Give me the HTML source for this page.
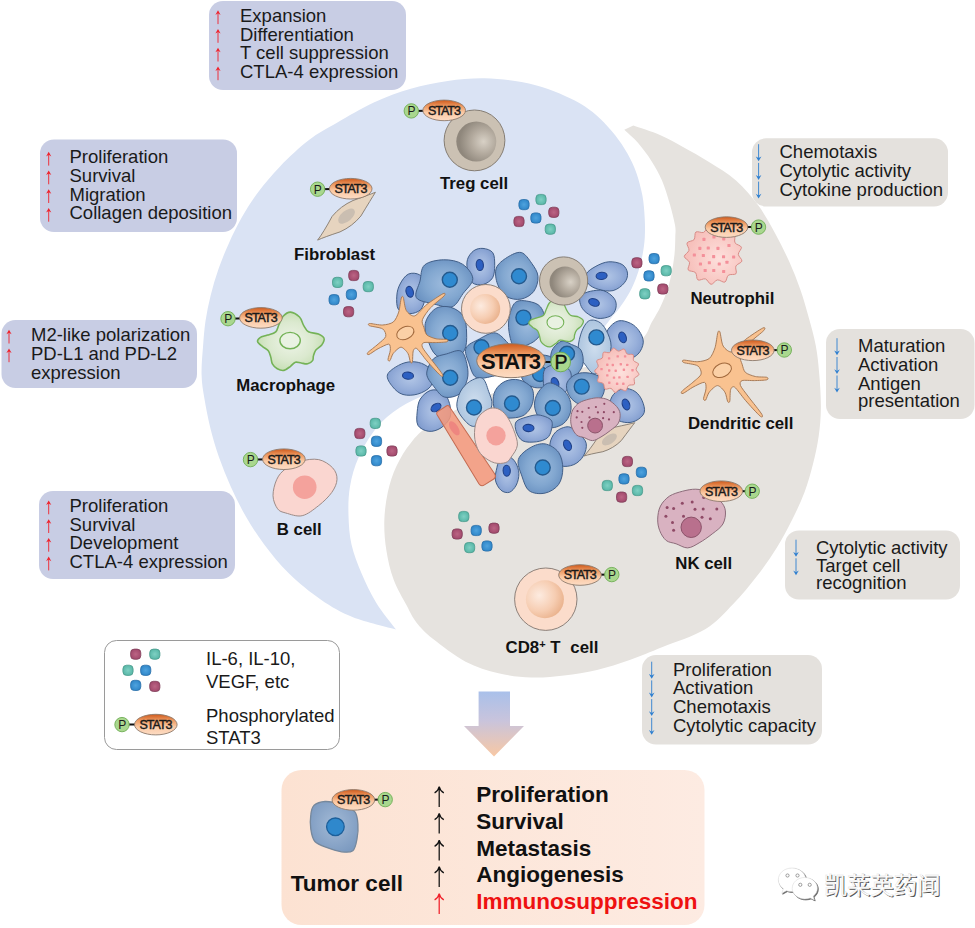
<!DOCTYPE html>
<html><head><meta charset="utf-8"><title>STAT3 in tumor microenvironment</title>
<style>
html,body{margin:0;padding:0;background:#fff;}
body{width:975px;height:928px;overflow:hidden;}
svg{display:block;font-family:"Liberation Sans",sans-serif;}
.t{font-size:18.5px;fill:#1a1a1a;}
.lb{font-size:16.8px;font-weight:bold;fill:#111;}
.st{font-size:12.5px;fill:#1a1a1a;letter-spacing:-1px;}
.bb{font-size:22.5px;font-weight:bold;fill:#111;}
</style></head><body>
<svg width="975" height="928" viewBox="0 0 975 928">
<defs>
<linearGradient id="gS" x1="0" y1="0" x2="0" y2="1"><stop offset="0" stop-color="#cf5a1c"/><stop offset="0.3" stop-color="#ee9a62"/><stop offset="0.6" stop-color="#fac9a4"/><stop offset="1" stop-color="#fddcc4"/></linearGradient>
<radialGradient id="gTreg" cx="0.68" cy="0.5" r="0.6"><stop offset="0" stop-color="#d8d1c6"/><stop offset="0.5" stop-color="#b4ab9f"/><stop offset="1" stop-color="#8f877c"/></radialGradient>
<radialGradient id="gCD8" cx="0.35" cy="0.4" r="0.7"><stop offset="0" stop-color="#fdebe0"/><stop offset="0.6" stop-color="#f6cdb2"/><stop offset="1" stop-color="#e9b08a"/></radialGradient>
<radialGradient id="gMac" cx="0.5" cy="0.5" r="0.55"><stop offset="0" stop-color="#eef4e8"/><stop offset="0.6" stop-color="#dbe9cf"/><stop offset="1" stop-color="#c3ddb0"/></radialGradient>
<radialGradient id="gNeu" cx="0.6" cy="0.55" r="0.6"><stop offset="0" stop-color="#fde0dc"/><stop offset="1" stop-color="#f6bdb8"/></radialGradient>
<linearGradient id="gArrow" x1="0" y1="0" x2="0" y2="1"><stop offset="0" stop-color="#a9c0ea"/><stop offset="0.45" stop-color="#c9c4dc"/><stop offset="1" stop-color="#f8c8a4"/></linearGradient>
<linearGradient id="gBox" x1="0" y1="0" x2="1" y2="0"><stop offset="0" stop-color="#fce2d2"/><stop offset="1" stop-color="#fdebe2"/></linearGradient>
<radialGradient id="gT1" cx="0.5" cy="0.5" r="0.6"><stop offset="0" stop-color="#9dbbdd"/><stop offset="0.55" stop-color="#82a7d0"/><stop offset="1" stop-color="#658dbe"/></radialGradient>
<radialGradient id="gT2" cx="0.5" cy="0.5" r="0.6"><stop offset="0" stop-color="#b2c6e6"/><stop offset="0.55" stop-color="#97afda"/><stop offset="1" stop-color="#7c98cc"/></radialGradient>
<radialGradient id="gT3" cx="0.5" cy="0.5" r="0.6"><stop offset="0" stop-color="#cfdeee"/><stop offset="1" stop-color="#a6c0dc"/></radialGradient>
<radialGradient id="gDm" cx="0.5" cy="0.5" r="0.6"><stop offset="0" stop-color="#bb6584"/><stop offset="1" stop-color="#9e4468"/></radialGradient>
<radialGradient id="gDt" cx="0.5" cy="0.5" r="0.6"><stop offset="0" stop-color="#7fd0c3"/><stop offset="1" stop-color="#52b3a3"/></radialGradient>
<radialGradient id="gDb" cx="0.5" cy="0.5" r="0.6"><stop offset="0" stop-color="#4fa3de"/><stop offset="1" stop-color="#2a82c6"/></radialGradient>
</defs>
<path d="M396.0,629.5 C392.7,625.0 381.9,612.0 376.2,602.7 C370.5,593.4 365.7,583.3 361.6,573.6 C357.5,563.9 353.7,554.2 351.5,544.5 C349.3,534.8 348.8,525.2 348.5,515.5 C348.2,505.8 348.3,496.1 350.0,486.4 C351.7,476.7 354.3,467.0 358.7,457.3 C363.1,447.6 369.4,436.4 376.2,428.2 C383.0,419.9 390.5,413.6 399.5,407.8 C408.5,402.0 416.6,398.3 430.0,393.3 C443.4,388.3 461.7,383.6 480.0,378.0 C498.3,372.4 521.7,366.3 540.0,360.0 C558.3,353.7 577.9,347.2 590.0,340.0 C602.1,332.8 607.1,322.5 612.4,316.6 C617.7,310.7 618.7,309.1 621.9,304.5 C625.1,299.9 628.7,294.5 631.4,289.0 C634.1,283.5 636.4,277.4 638.3,271.7 C640.2,265.9 641.5,260.2 642.6,254.5 C643.7,248.8 644.4,243.3 644.8,237.2 C645.1,231.1 645.1,224.9 644.7,218.0 C644.3,211.1 643.8,203.1 642.4,195.6 C641.0,188.1 638.9,180.1 636.4,173.0 C633.9,165.9 630.8,159.6 627.3,153.3 C623.8,147.0 619.7,141.0 615.2,135.2 C610.7,129.4 605.2,123.5 600.2,118.7 C595.2,113.9 590.0,110.0 585.0,106.6 C580.0,103.2 576.2,101.2 570.0,98.3 C563.8,95.4 556.1,91.7 548.0,89.0 C539.9,86.3 532.1,83.8 521.5,82.0 C510.9,80.2 496.9,78.5 484.6,78.3 C472.3,78.1 460.0,79.2 447.7,81.0 C435.4,82.8 423.1,85.2 410.8,88.8 C398.5,92.4 386.1,96.8 373.8,102.5 C361.5,108.2 347.8,116.5 337.0,122.8 C326.2,129.1 318.4,132.8 309.0,140.0 C299.6,147.2 288.9,157.3 280.5,165.9 C272.1,174.5 265.0,183.1 258.5,191.7 C252.0,200.3 246.6,209.0 241.7,217.6 C236.8,226.2 232.7,234.8 228.8,243.4 C224.9,252.0 221.4,260.7 218.4,269.3 C215.4,277.9 212.8,286.6 210.7,295.2 C208.5,303.8 206.8,312.4 205.5,321.0 C204.2,329.6 203.7,337.9 203.0,346.9 C202.3,355.9 201.3,366.3 201.6,375.0 C201.8,383.7 203.0,390.1 204.5,399.0 C206.0,407.9 208.0,418.5 210.4,428.2 C212.8,437.9 215.6,447.6 219.0,457.3 C222.4,467.0 226.3,476.7 230.7,486.4 C235.1,496.1 239.7,505.8 245.3,515.5 C250.9,525.2 256.9,534.8 264.2,544.5 C271.5,554.2 279.5,564.4 289.0,573.6 C298.5,582.8 310.3,592.5 321.0,599.8 C331.7,607.1 340.5,612.3 353.0,617.3 C365.5,622.2 388.8,627.5 396.0,629.5Z" fill="#dae3f4"/>
<path d="M633.3,125.6 C637.8,127.2 652.2,131.6 660.5,135.2 C668.8,138.8 674.9,142.5 683.0,147.0 C691.1,151.5 700.2,156.4 709.0,162.0 C717.8,167.6 727.8,173.1 736.0,180.4 C744.2,187.7 751.9,196.7 758.4,205.6 C764.9,214.5 770.1,224.3 775.2,233.6 C780.3,242.9 785.0,252.3 789.2,261.6 C793.4,271.0 797.1,280.4 800.4,289.7 C803.7,299.0 806.2,308.4 808.8,317.7 C811.4,327.0 814.1,336.4 815.8,345.7 C817.5,355.0 818.4,363.3 819.2,373.7 C820.1,384.1 821.0,397.6 820.9,408.0 C820.8,418.4 820.0,426.7 818.7,436.0 C817.4,445.3 815.4,454.7 813.0,464.0 C810.6,473.3 808.1,482.7 804.6,492.0 C801.1,501.3 796.7,510.7 792.0,520.0 C787.3,529.3 782.4,538.7 776.6,548.0 C770.8,557.3 764.2,566.7 757.0,576.0 C749.8,585.3 741.8,595.1 733.2,604.0 C724.6,612.9 717.0,622.1 705.2,629.3 C693.4,636.5 675.2,641.9 662.6,647.0 C650.0,652.1 640.6,656.2 629.7,660.0 C618.8,663.8 608.0,667.4 597.0,670.0 C586.0,672.6 575.0,674.2 564.0,675.5 C553.0,676.8 542.2,677.9 531.3,677.5 C520.4,677.1 509.4,675.8 498.5,673.2 C487.6,670.6 476.6,667.4 465.6,661.7 C454.7,656.0 441.0,645.3 432.8,638.8 C424.6,632.2 420.8,627.9 416.4,622.4 C412.0,616.9 410.5,612.8 406.7,605.6 C402.9,598.5 397.0,588.7 393.6,579.5 C390.2,570.3 387.9,560.1 386.4,550.4 C384.8,540.7 384.1,531.0 384.3,521.3 C384.5,511.6 385.8,501.4 387.8,492.2 C389.8,483.0 392.6,474.2 396.5,466.0 C400.4,457.8 405.4,449.5 411.0,442.7 C416.6,435.9 418.5,432.8 430.0,425.3 C441.5,417.9 461.7,405.6 480.0,398.0 C498.3,390.4 520.0,386.0 540.0,380.0 C560.0,374.0 583.3,368.6 600.0,362.0 C616.7,355.4 631.3,347.4 640.0,340.7 C648.7,334.0 648.5,327.4 652.0,321.7 C655.5,315.9 658.1,311.6 660.7,306.2 C663.3,300.8 665.7,294.8 667.6,289.0 C669.5,283.2 670.8,277.4 671.9,271.7 C673.0,265.9 673.9,260.2 674.5,254.5 C675.1,248.8 675.2,242.1 675.3,237.2 C675.4,232.3 676.0,230.7 675.0,225.0 C674.0,219.3 671.7,210.4 669.5,203.0 C667.3,195.6 665.0,187.5 662.0,180.5 C659.0,173.5 655.4,167.2 651.4,160.9 C647.4,154.6 642.4,148.0 637.9,142.8 C633.4,137.6 626.6,132.0 624.3,129.8Z" fill="#e6e3df"/>
<rect x="209.0" y="1.0" width="197.0" height="89.0" rx="14" fill="#c8cde4"/>
<text class="t" x="240.0" y="21.8">Expansion</text>
<path d="M218.0,24.1 V12.3" fill="none" stroke="#f0202a" stroke-width="0.9"/><path d="M218.0,10.3 L215.4,14.9 L218.0,13.3 L220.6,14.9Z" fill="#f0202a"/>
<text class="t" x="240.0" y="40.5">Differentiation</text>
<path d="M218.0,42.8 V31.0" fill="none" stroke="#f0202a" stroke-width="0.9"/><path d="M218.0,29.0 L215.4,33.6 L218.0,32.0 L220.6,33.6Z" fill="#f0202a"/>
<text class="t" x="240.0" y="59.2">T cell suppression</text>
<path d="M218.0,61.5 V49.7" fill="none" stroke="#f0202a" stroke-width="0.9"/><path d="M218.0,47.7 L215.4,52.3 L218.0,50.7 L220.6,52.3Z" fill="#f0202a"/>
<text class="t" x="240.0" y="77.9">CTLA-4 expression</text>
<path d="M218.0,80.2 V68.4" fill="none" stroke="#f0202a" stroke-width="0.9"/><path d="M218.0,66.4 L215.4,71.0 L218.0,69.4 L220.6,71.0Z" fill="#f0202a"/>
<rect x="40.0" y="139.5" width="197.0" height="92.5" rx="14" fill="#c8cde4"/>
<text class="t" x="69.5" y="163.3">Proliferation</text>
<path d="M48.7,165.6 V153.8" fill="none" stroke="#f0202a" stroke-width="0.9"/><path d="M48.7,151.8 L46.1,156.4 L48.7,154.8 L51.3,156.4Z" fill="#f0202a"/>
<text class="t" x="69.5" y="182.0">Survival</text>
<path d="M48.7,184.3 V172.5" fill="none" stroke="#f0202a" stroke-width="0.9"/><path d="M48.7,170.5 L46.1,175.1 L48.7,173.5 L51.3,175.1Z" fill="#f0202a"/>
<text class="t" x="69.5" y="200.7">Migration</text>
<path d="M48.7,203.0 V191.2" fill="none" stroke="#f0202a" stroke-width="0.9"/><path d="M48.7,189.2 L46.1,193.8 L48.7,192.2 L51.3,193.8Z" fill="#f0202a"/>
<text class="t" x="69.5" y="219.4">Collagen deposition</text>
<path d="M48.7,221.7 V209.9" fill="none" stroke="#f0202a" stroke-width="0.9"/><path d="M48.7,207.9 L46.1,212.5 L48.7,210.9 L51.3,212.5Z" fill="#f0202a"/>
<rect x="1.5" y="320.0" width="195.5" height="68.0" rx="14" fill="#c8cde4"/>
<text class="t" x="31.0" y="341.2">M2-like polarization</text>
<path d="M9.0,343.5 V331.7" fill="none" stroke="#f0202a" stroke-width="0.9"/><path d="M9.0,329.7 L6.4,334.3 L9.0,332.7 L11.6,334.3Z" fill="#f0202a"/>
<text class="t" x="31.0" y="359.9">PD-L1 and PD-L2</text>
<path d="M9.0,362.2 V350.4" fill="none" stroke="#f0202a" stroke-width="0.9"/><path d="M9.0,348.4 L6.4,353.0 L9.0,351.4 L11.6,353.0Z" fill="#f0202a"/>
<text class="t" x="31.0" y="378.6">expression</text>
<rect x="39.0" y="491.0" width="196.0" height="88.0" rx="14" fill="#c8cde4"/>
<text class="t" x="69.5" y="512.0">Proliferation</text>
<path d="M48.7,514.3 V502.5" fill="none" stroke="#f0202a" stroke-width="0.9"/><path d="M48.7,500.5 L46.1,505.1 L48.7,503.5 L51.3,505.1Z" fill="#f0202a"/>
<text class="t" x="69.5" y="530.7">Survival</text>
<path d="M48.7,533.0 V521.2" fill="none" stroke="#f0202a" stroke-width="0.9"/><path d="M48.7,519.2 L46.1,523.8 L48.7,522.2 L51.3,523.8Z" fill="#f0202a"/>
<text class="t" x="69.5" y="549.4">Development</text>
<path d="M48.7,551.7 V539.9" fill="none" stroke="#f0202a" stroke-width="0.9"/><path d="M48.7,537.9 L46.1,542.5 L48.7,540.9 L51.3,542.5Z" fill="#f0202a"/>
<text class="t" x="69.5" y="568.1">CTLA-4 expression</text>
<path d="M48.7,570.4 V558.6" fill="none" stroke="#f0202a" stroke-width="0.9"/><path d="M48.7,556.6 L46.1,561.2 L48.7,559.6 L51.3,561.2Z" fill="#f0202a"/>
<rect x="752.0" y="138.3" width="196.0" height="68.2" rx="14" fill="#e4e1dd"/>
<text class="t" x="779.5" y="158.2">Chemotaxis</text>
<path d="M758.6,144.2 V159.2" fill="none" stroke="#2e7fd0" stroke-width="0.9"/><path d="M758.6,161.2 L755.8,156.4 L758.6,158.1 L761.4,156.4Z" fill="#2e7fd0"/>
<text class="t" x="779.5" y="176.9">Cytolytic activity</text>
<path d="M758.6,162.9 V177.9" fill="none" stroke="#2e7fd0" stroke-width="0.9"/><path d="M758.6,179.9 L755.8,175.1 L758.6,176.8 L761.4,175.1Z" fill="#2e7fd0"/>
<text class="t" x="779.5" y="195.6">Cytokine production</text>
<path d="M758.6,181.6 V196.6" fill="none" stroke="#2e7fd0" stroke-width="0.9"/><path d="M758.6,198.6 L755.8,193.8 L758.6,195.5 L761.4,193.8Z" fill="#2e7fd0"/>
<rect x="826.0" y="329.0" width="148.5" height="90.0" rx="14" fill="#e4e1dd"/>
<text class="t" x="858.0" y="352.2">Maturation</text>
<path d="M837.0,338.2 V353.2" fill="none" stroke="#2e7fd0" stroke-width="0.9"/><path d="M837.0,355.2 L834.2,350.4 L837.0,352.1 L839.8,350.4Z" fill="#2e7fd0"/>
<text class="t" x="858.0" y="371.0">Activation</text>
<path d="M837.0,357.0 V372.0" fill="none" stroke="#2e7fd0" stroke-width="0.9"/><path d="M837.0,374.0 L834.2,369.2 L837.0,370.9 L839.8,369.2Z" fill="#2e7fd0"/>
<text class="t" x="858.0" y="389.5">Antigen</text>
<path d="M837.0,375.5 V390.5" fill="none" stroke="#2e7fd0" stroke-width="0.9"/><path d="M837.0,392.5 L834.2,387.7 L837.0,389.4 L839.8,387.7Z" fill="#2e7fd0"/>
<text class="t" x="858.0" y="406.5">presentation</text>
<rect x="785.0" y="530.5" width="175.0" height="69.0" rx="14" fill="#e4e1dd"/>
<text class="t" x="816.0" y="553.7">Cytolytic activity</text>
<path d="M796.0,539.7 V554.7" fill="none" stroke="#2e7fd0" stroke-width="0.9"/><path d="M796.0,556.7 L793.2,551.9 L796.0,553.6 L798.8,551.9Z" fill="#2e7fd0"/>
<text class="t" x="816.0" y="572.3">Target cell</text>
<path d="M796.0,558.3 V573.3" fill="none" stroke="#2e7fd0" stroke-width="0.9"/><path d="M796.0,575.3 L793.2,570.5 L796.0,572.2 L798.8,570.5Z" fill="#2e7fd0"/>
<text class="t" x="816.0" y="589.3">recognition</text>
<rect x="642.0" y="655.0" width="180.0" height="89.5" rx="14" fill="#e4e1dd"/>
<text class="t" x="673.0" y="675.7">Proliferation</text>
<path d="M651.7,661.7 V676.7" fill="none" stroke="#2e7fd0" stroke-width="0.9"/><path d="M651.7,678.7 L648.9,673.9 L651.7,675.6 L654.5,673.9Z" fill="#2e7fd0"/>
<text class="t" x="673.0" y="694.4">Activation</text>
<path d="M651.7,680.4 V695.4" fill="none" stroke="#2e7fd0" stroke-width="0.9"/><path d="M651.7,697.4 L648.9,692.6 L651.7,694.3 L654.5,692.6Z" fill="#2e7fd0"/>
<text class="t" x="673.0" y="713.1">Chemotaxis</text>
<path d="M651.7,699.1 V714.1" fill="none" stroke="#2e7fd0" stroke-width="0.9"/><path d="M651.7,716.1 L648.9,711.3 L651.7,713.0 L654.5,711.3Z" fill="#2e7fd0"/>
<text class="t" x="673.0" y="731.8">Cytolytic capacity</text>
<path d="M651.7,717.8 V732.8" fill="none" stroke="#2e7fd0" stroke-width="0.9"/><path d="M651.7,734.8 L648.9,730.0 L651.7,731.7 L654.5,730.0Z" fill="#2e7fd0"/>
<rect x="104.5" y="640.5" width="235" height="109" rx="12" fill="#fff" stroke="#9a9a9a" stroke-width="1"/>
<text class="t" x="206" y="665.3">IL-6, IL-10,</text>
<text class="t" x="206" y="687.9">VEGF, etc</text>
<text class="t" x="206" y="721.6">Phosphorylated</text>
<text class="t" x="206" y="744.2">STAT3</text>
<rect x="518.9" y="199.5" width="10.2" height="10.2" rx="3.7" fill="url(#gDb)" stroke="#2a6ea8" stroke-width="0.8"/>
<rect x="535.9" y="194.4" width="10.2" height="10.2" rx="3.7" fill="url(#gDt)" stroke="#4a9a8c" stroke-width="0.8"/>
<rect x="548.7" y="207.2" width="10.2" height="10.2" rx="3.7" fill="url(#gDm)" stroke="#80405a" stroke-width="0.8"/>
<rect x="530.8" y="212.9" width="10.2" height="10.2" rx="3.7" fill="url(#gDb)" stroke="#2a6ea8" stroke-width="0.8"/>
<rect x="513.9" y="216.4" width="10.2" height="10.2" rx="3.7" fill="url(#gDm)" stroke="#80405a" stroke-width="0.8"/>
<rect x="545.2" y="224.1" width="10.2" height="10.2" rx="3.7" fill="url(#gDt)" stroke="#4a9a8c" stroke-width="0.8"/>
<rect x="348.7" y="270.4" width="10.2" height="10.2" rx="3.7" fill="url(#gDm)" stroke="#80405a" stroke-width="0.8"/>
<rect x="332.5" y="277.3" width="10.2" height="10.2" rx="3.7" fill="url(#gDt)" stroke="#4a9a8c" stroke-width="0.8"/>
<rect x="363.2" y="281.5" width="10.2" height="10.2" rx="3.7" fill="url(#gDt)" stroke="#4a9a8c" stroke-width="0.8"/>
<rect x="346.3" y="289.4" width="10.2" height="10.2" rx="3.7" fill="url(#gDb)" stroke="#2a6ea8" stroke-width="0.8"/>
<rect x="329.0" y="294.6" width="10.2" height="10.2" rx="3.7" fill="url(#gDb)" stroke="#2a6ea8" stroke-width="0.8"/>
<rect x="343.5" y="306.6" width="10.2" height="10.2" rx="3.7" fill="url(#gDm)" stroke="#80405a" stroke-width="0.8"/>
<rect x="631.8" y="257.7" width="10.2" height="10.2" rx="3.7" fill="url(#gDm)" stroke="#80405a" stroke-width="0.8"/>
<rect x="649.0" y="253.5" width="10.2" height="10.2" rx="3.7" fill="url(#gDb)" stroke="#2a6ea8" stroke-width="0.8"/>
<rect x="661.1" y="265.6" width="10.2" height="10.2" rx="3.7" fill="url(#gDt)" stroke="#4a9a8c" stroke-width="0.8"/>
<rect x="643.9" y="270.8" width="10.2" height="10.2" rx="3.7" fill="url(#gDb)" stroke="#2a6ea8" stroke-width="0.8"/>
<rect x="657.7" y="283.9" width="10.2" height="10.2" rx="3.7" fill="url(#gDm)" stroke="#80405a" stroke-width="0.8"/>
<rect x="639.7" y="288.7" width="10.2" height="10.2" rx="3.7" fill="url(#gDt)" stroke="#4a9a8c" stroke-width="0.8"/>
<rect x="354.7" y="428.4" width="10.2" height="10.2" rx="3.7" fill="url(#gDm)" stroke="#80405a" stroke-width="0.8"/>
<rect x="370.2" y="418.3" width="10.2" height="10.2" rx="3.7" fill="url(#gDt)" stroke="#4a9a8c" stroke-width="0.8"/>
<rect x="371.4" y="436.2" width="10.2" height="10.2" rx="3.7" fill="url(#gDb)" stroke="#2a6ea8" stroke-width="0.8"/>
<rect x="355.9" y="445.9" width="10.2" height="10.2" rx="3.7" fill="url(#gDt)" stroke="#4a9a8c" stroke-width="0.8"/>
<rect x="386.9" y="445.9" width="10.2" height="10.2" rx="3.7" fill="url(#gDm)" stroke="#80405a" stroke-width="0.8"/>
<rect x="371.4" y="455.6" width="10.2" height="10.2" rx="3.7" fill="url(#gDb)" stroke="#2a6ea8" stroke-width="0.8"/>
<rect x="458.7" y="511.4" width="10.2" height="10.2" rx="3.7" fill="url(#gDt)" stroke="#4a9a8c" stroke-width="0.8"/>
<rect x="452.1" y="528.9" width="10.2" height="10.2" rx="3.7" fill="url(#gDm)" stroke="#80405a" stroke-width="0.8"/>
<rect x="471.1" y="525.4" width="10.2" height="10.2" rx="3.7" fill="url(#gDb)" stroke="#2a6ea8" stroke-width="0.8"/>
<rect x="488.9" y="523.1" width="10.2" height="10.2" rx="3.7" fill="url(#gDm)" stroke="#80405a" stroke-width="0.8"/>
<rect x="464.5" y="542.5" width="10.2" height="10.2" rx="3.7" fill="url(#gDt)" stroke="#4a9a8c" stroke-width="0.8"/>
<rect x="481.9" y="540.9" width="10.2" height="10.2" rx="3.7" fill="url(#gDb)" stroke="#2a6ea8" stroke-width="0.8"/>
<rect x="622.3" y="456.4" width="10.2" height="10.2" rx="3.7" fill="url(#gDm)" stroke="#80405a" stroke-width="0.8"/>
<rect x="636.3" y="467.2" width="10.2" height="10.2" rx="3.7" fill="url(#gDb)" stroke="#2a6ea8" stroke-width="0.8"/>
<rect x="618.9" y="473.8" width="10.2" height="10.2" rx="3.7" fill="url(#gDb)" stroke="#2a6ea8" stroke-width="0.8"/>
<rect x="602.2" y="480.4" width="10.2" height="10.2" rx="3.7" fill="url(#gDt)" stroke="#4a9a8c" stroke-width="0.8"/>
<rect x="632.4" y="485.4" width="10.2" height="10.2" rx="3.7" fill="url(#gDt)" stroke="#4a9a8c" stroke-width="0.8"/>
<rect x="616.5" y="492.0" width="10.2" height="10.2" rx="3.7" fill="url(#gDm)" stroke="#80405a" stroke-width="0.8"/>
<rect x="130.6" y="649.1" width="10.2" height="10.2" rx="3.7" fill="url(#gDm)" stroke="#80405a" stroke-width="0.8"/>
<rect x="149.7" y="649.1" width="10.2" height="10.2" rx="3.7" fill="url(#gDt)" stroke="#4a9a8c" stroke-width="0.8"/>
<rect x="122.9" y="665.2" width="10.2" height="10.2" rx="3.7" fill="url(#gDt)" stroke="#4a9a8c" stroke-width="0.8"/>
<rect x="140.6" y="665.2" width="10.2" height="10.2" rx="3.7" fill="url(#gDb)" stroke="#2a6ea8" stroke-width="0.8"/>
<rect x="130.6" y="680.3" width="10.2" height="10.2" rx="3.7" fill="url(#gDb)" stroke="#2a6ea8" stroke-width="0.8"/>
<rect x="149.7" y="681.3" width="10.2" height="10.2" rx="3.7" fill="url(#gDm)" stroke="#80405a" stroke-width="0.8"/>
<circle cx="474.5" cy="140.4" r="30.4" fill="#cbc1b3" stroke="#857d73" stroke-width="1"/>
<circle cx="476.3" cy="141.6" r="20.0" fill="url(#gTreg)"/>
<line x1="411.3" y1="110.9" x2="444.2" y2="110.4" stroke="#111" stroke-width="2"/>
<ellipse cx="444.2" cy="110.4" rx="21.3" ry="10.3" fill="url(#gS)" stroke="#8d7a6c" stroke-width="0.9"/>
<text class="st" x="443.9" y="114.8" text-anchor="middle" stroke="#1a1a1a" stroke-width="0.45">STAT3</text>
<circle cx="411.3" cy="110.9" r="7.2" fill="#a9d78e" stroke="#6fae55" stroke-width="0.9"/>
<text x="411.5" y="115.3" text-anchor="middle" font-size="12" fill="#1a1a1a">P</text>
<text class="lb" x="440.0" y="189.0" text-anchor="start">Treg cell</text>
<path d="M317.6,240.1 Q323.3,232.8 332.1,216.4 Q340.6,206.1 353.0,200.5 Q368.0,195.2 375.4,192.3 Q371.2,199.0 360.9,216.0 Q352.4,226.3 340.0,231.9 Q324.7,236.9 317.6,240.1Z" fill="#e6d4bf" stroke="#8d8378" stroke-width="1"/>
<ellipse cx="346.5" cy="216.2" rx="10.0" ry="5.3" fill="#cabeb1" transform="rotate(-39.6 346.5 216.2)"/>
<line x1="317.6" y1="189.2" x2="350.7" y2="188.7" stroke="#111" stroke-width="2"/>
<ellipse cx="350.7" cy="188.7" rx="21.3" ry="10.3" fill="url(#gS)" stroke="#8d7a6c" stroke-width="0.9"/>
<text class="st" x="350.4" y="193.1" text-anchor="middle" stroke="#1a1a1a" stroke-width="0.45">STAT3</text>
<circle cx="317.6" cy="189.2" r="7.2" fill="#a9d78e" stroke="#6fae55" stroke-width="0.9"/>
<text x="317.8" y="193.6" text-anchor="middle" font-size="12" fill="#1a1a1a">P</text>
<text class="lb" x="294.0" y="259.7" text-anchor="start">Fibroblast</text>
<path d="M290.5,312.1 C293.2,312.3 297.3,314.9 299.5,317.0 C301.7,319.2 302.1,322.8 303.6,325.3 C305.1,327.7 306.1,330.4 308.5,331.8 C311.0,333.3 315.8,332.9 318.4,334.0 C321.0,335.1 323.6,336.6 324.1,338.4 C324.7,340.2 323.0,343.0 321.7,345.0 C320.3,346.9 317.3,348.1 315.9,349.9 C314.6,351.7 314.0,353.9 313.5,355.6 C312.9,357.4 313.6,359.2 312.6,360.6 C311.7,361.9 309.6,363.4 307.7,363.8 C305.8,364.3 303.2,363.3 301.2,363.0 C299.1,362.8 297.2,361.7 295.4,362.2 C293.6,362.8 292.4,364.9 290.5,366.3 C288.6,367.7 286.1,370.0 283.9,370.4 C281.7,370.8 279.3,369.9 277.3,368.8 C275.4,367.7 273.5,365.8 272.4,363.8 C271.3,361.9 271.5,359.5 270.8,357.3 C270.1,355.1 269.7,352.5 268.3,350.7 C266.9,348.9 264.3,348.1 262.6,346.6 C260.8,345.1 258.0,343.2 257.6,341.7 C257.2,340.2 258.5,338.7 260.1,337.6 C261.7,336.5 264.9,336.1 267.5,335.1 C270.1,334.2 273.8,333.6 275.7,331.8 C277.6,330.0 277.8,327.0 279.0,324.4 C280.2,321.8 281.2,318.3 283.1,316.2 C285.0,314.2 287.7,312.0 290.5,312.1Z" fill="url(#gMac)" stroke="#74b257" stroke-width="1.6"/>
<ellipse cx="290.1" cy="340.6" rx="10.2" ry="8.2" fill="#e9f2e2" stroke="#74b257" stroke-width="1.4"/>
<line x1="228.0" y1="318.7" x2="260.9" y2="317.9" stroke="#111" stroke-width="2"/>
<ellipse cx="260.9" cy="317.9" rx="21.3" ry="10.3" fill="url(#gS)" stroke="#8d7a6c" stroke-width="0.9"/>
<text class="st" x="260.6" y="322.3" text-anchor="middle" stroke="#1a1a1a" stroke-width="0.45">STAT3</text>
<circle cx="228.0" cy="318.7" r="7.2" fill="#a9d78e" stroke="#6fae55" stroke-width="0.9"/>
<text x="228.2" y="323.1" text-anchor="middle" font-size="12" fill="#1a1a1a">P</text>
<text class="lb" x="236.3" y="390.5" text-anchor="start">Macrophage</text>
<path d="M273.0,495.7 C272.9,490.8 274.7,483.8 276.8,479.3 C278.9,474.8 281.8,471.6 285.8,468.6 C289.8,465.6 295.1,462.7 300.6,461.2 C306.1,459.7 313.3,458.5 318.7,459.6 C324.0,460.7 329.5,464.5 332.6,467.8 C335.7,471.1 337.2,475.2 337.0,479.3 C336.9,483.4 334.9,488.0 331.8,492.4 C328.7,496.8 323.6,501.7 318.7,505.6 C313.7,509.4 307.7,514.5 302.2,515.7 C296.8,517.0 289.9,514.1 285.8,513.0 C281.7,511.8 279.7,511.7 277.6,508.8 C275.5,506.0 273.1,500.6 273.0,495.7Z" fill="#fad6d0" stroke="#9c8b87" stroke-width="1"/>
<circle cx="304.7" cy="487.2" r="11.8" fill="#f4a29c"/>
<line x1="250.5" y1="459.6" x2="283.9" y2="459.2" stroke="#111" stroke-width="2"/>
<ellipse cx="283.9" cy="459.2" rx="21.3" ry="10.3" fill="url(#gS)" stroke="#8d7a6c" stroke-width="0.9"/>
<text class="st" x="283.6" y="463.6" text-anchor="middle" stroke="#1a1a1a" stroke-width="0.45">STAT3</text>
<circle cx="250.5" cy="459.6" r="7.2" fill="#a9d78e" stroke="#6fae55" stroke-width="0.9"/>
<text x="250.7" y="464.0" text-anchor="middle" font-size="12" fill="#1a1a1a">P</text>
<text class="lb" x="276.8" y="534.6" text-anchor="start">B cell</text>
<path d="M741.9,261.1 C741.5,263.0 736.9,263.9 735.9,266.0 C734.9,268.1 737.2,272.1 736.0,273.7 C734.7,275.2 730.3,273.8 728.4,275.2 C726.5,276.6 726.7,281.3 724.9,282.1 C723.0,282.9 719.7,279.5 717.4,279.9 C715.1,280.3 713.1,284.5 711.1,284.3 C709.1,284.2 707.7,279.7 705.5,278.9 C703.3,278.2 699.6,281.0 697.9,279.9 C696.2,278.9 697.1,274.3 695.5,272.6 C693.8,270.9 689.2,271.6 688.2,269.9 C687.2,268.2 690.1,264.5 689.5,262.3 C688.8,260.0 684.4,258.5 684.3,256.5 C684.2,254.5 688.5,252.6 689.0,250.3 C689.4,248.1 686.2,244.7 687.1,242.9 C687.9,241.1 692.6,241.4 694.1,239.6 C695.5,237.8 694.3,233.2 695.9,232.0 C697.5,230.8 701.5,233.3 703.6,232.4 C705.7,231.5 706.7,226.9 708.7,226.6 C710.7,226.2 713.1,230.3 715.4,230.5 C717.7,230.6 720.7,227.0 722.6,227.7 C724.5,228.3 724.7,233.0 726.7,234.2 C728.7,235.5 733.0,233.7 734.4,235.1 C735.8,236.5 733.8,240.8 735.0,242.8 C736.1,244.8 740.8,245.3 741.4,247.2 C741.9,249.1 738.2,251.9 738.3,254.3 C738.4,256.6 742.3,259.1 741.9,261.1Z" fill="url(#gNeu)" stroke="#d98d88" stroke-width="1"/>
<rect x="702.4" y="237.8" width="3.1" height="3.1" rx="0.6" fill="#f4909a"/>
<rect x="712.4" y="235.5" width="3.1" height="3.1" rx="0.6" fill="#f4909a"/>
<rect x="722.2" y="237.3" width="3.1" height="3.1" rx="0.6" fill="#f4909a"/>
<rect x="698.3" y="246.8" width="3.1" height="3.1" rx="0.6" fill="#f4909a"/>
<rect x="706.7" y="246.4" width="3.1" height="3.1" rx="0.6" fill="#f4909a"/>
<rect x="716.4" y="246.8" width="3.1" height="3.1" rx="0.6" fill="#f4909a"/>
<rect x="727.4" y="244.0" width="3.1" height="3.1" rx="0.6" fill="#f4909a"/>
<rect x="692.8" y="253.4" width="3.1" height="3.1" rx="0.6" fill="#f4909a"/>
<rect x="701.8" y="254.0" width="3.1" height="3.1" rx="0.6" fill="#f4909a"/>
<rect x="712.1" y="255.1" width="3.1" height="3.1" rx="0.6" fill="#f4909a"/>
<rect x="722.0" y="255.2" width="3.1" height="3.1" rx="0.6" fill="#f4909a"/>
<rect x="732.1" y="255.4" width="3.1" height="3.1" rx="0.6" fill="#f4909a"/>
<rect x="698.9" y="262.4" width="3.1" height="3.1" rx="0.6" fill="#f4909a"/>
<rect x="707.8" y="261.2" width="3.1" height="3.1" rx="0.6" fill="#f4909a"/>
<rect x="717.7" y="262.4" width="3.1" height="3.1" rx="0.6" fill="#f4909a"/>
<rect x="725.4" y="260.7" width="3.1" height="3.1" rx="0.6" fill="#f4909a"/>
<rect x="703.6" y="269.0" width="3.1" height="3.1" rx="0.6" fill="#f4909a"/>
<rect x="712.2" y="269.0" width="3.1" height="3.1" rx="0.6" fill="#f4909a"/>
<rect x="722.1" y="270.0" width="3.1" height="3.1" rx="0.6" fill="#f4909a"/>
<line x1="758.5" y1="227.1" x2="726.5" y2="227.1" stroke="#111" stroke-width="2"/>
<ellipse cx="726.5" cy="227.1" rx="21.3" ry="10.3" fill="url(#gS)" stroke="#8d7a6c" stroke-width="0.9"/>
<text class="st" x="726.2" y="231.5" text-anchor="middle" stroke="#1a1a1a" stroke-width="0.45">STAT3</text>
<circle cx="758.5" cy="227.1" r="7.2" fill="#a9d78e" stroke="#6fae55" stroke-width="0.9"/>
<text x="758.7" y="231.5" text-anchor="middle" font-size="12" fill="#1a1a1a">P</text>
<text class="lb" x="690.4" y="303.8" text-anchor="start">Neutrophil</text>
<path d="M720.0,332.2 C720.7,334.1 721.5,343.4 723.2,346.1 C725.0,348.9 729.2,352.8 732.3,351.9 C735.4,351.0 741.2,342.9 745.4,339.6 C749.7,336.2 760.1,329.4 762.7,328.1 C765.2,326.8 765.6,328.5 763.8,330.5 C762.0,332.6 752.8,339.3 749.5,342.9 C746.3,346.4 741.5,353.0 740.5,356.0 C739.4,359.0 741.4,361.9 742.1,364.2 C742.8,366.5 743.6,370.7 745.4,372.4 C747.2,374.1 752.3,375.8 755.3,376.5 C758.3,377.2 765.1,376.9 766.8,377.3 C768.4,377.8 768.5,379.4 766.8,379.8 C765.0,380.3 757.9,380.5 754.4,380.6 C751.0,380.7 744.1,379.9 742.1,380.6 C740.2,381.3 739.6,383.3 740.5,385.6 C741.4,387.9 745.7,393.0 748.7,397.1 C751.7,401.1 760.3,411.6 761.8,414.3 C763.4,416.9 762.2,417.9 759.9,415.9 C757.6,414.0 748.9,404.4 745.4,400.3 C741.9,396.3 736.8,388.7 734.7,387.2 C732.7,385.7 731.3,387.7 730.6,389.7 C729.9,391.6 730.2,399.5 729.8,401.2 C729.4,402.8 728.4,402.9 727.7,401.6 C727.0,400.4 726.3,394.4 724.9,392.1 C723.5,389.9 719.7,385.6 717.5,385.6 C715.3,385.6 710.9,390.1 709.3,392.1 C707.6,394.1 706.5,399.1 705.7,400.0 C704.9,400.9 703.5,400.3 703.5,398.7 C703.6,397.1 705.9,391.1 706.0,388.8 C706.1,386.5 706.2,382.5 704.4,382.3 C702.5,382.0 695.9,385.6 692.9,387.2 C689.9,388.8 684.6,392.9 683.0,393.4 C681.5,394.0 680.5,392.9 681.9,391.3 C683.2,389.7 690.2,384.7 692.9,382.3 C695.6,379.9 700.4,376.4 701.1,374.1 C701.8,371.8 700.2,367.5 697.8,365.9 C695.4,364.2 685.8,363.4 683.8,362.6 C681.9,361.8 681.9,360.2 683.8,360.1 C685.8,360.0 694.2,362.0 697.8,361.7 C701.4,361.5 706.9,360.4 709.3,358.5 C711.7,356.5 713.8,351.4 715.0,347.8 C716.2,344.2 717.1,334.9 717.8,332.7 C718.5,330.5 719.2,330.3 720.0,332.2Z" fill="#f9c290" stroke="#a97c58" stroke-width="1"/>
<ellipse cx="722.1" cy="370.3" rx="9.8" ry="6.6" fill="#fbd0a6" stroke="#a0683c" stroke-width="1" transform="rotate(-25 722.1 370.3)"/>
<line x1="784.3" y1="350.0" x2="752.8" y2="350.3" stroke="#111" stroke-width="2"/>
<ellipse cx="752.8" cy="350.3" rx="21.3" ry="10.3" fill="url(#gS)" stroke="#8d7a6c" stroke-width="0.9"/>
<text class="st" x="752.5" y="354.7" text-anchor="middle" stroke="#1a1a1a" stroke-width="0.45">STAT3</text>
<circle cx="784.3" cy="350.0" r="7.2" fill="#a9d78e" stroke="#6fae55" stroke-width="0.9"/>
<text x="784.5" y="354.4" text-anchor="middle" font-size="12" fill="#1a1a1a">P</text>
<text class="lb" x="688.0" y="428.6" text-anchor="start">Dendritic cell</text>
<path d="M657.7,519.1 C657.8,515.0 658.5,509.8 660.5,506.0 C662.5,502.2 665.8,498.6 669.5,496.1 C673.2,493.7 678.3,492.4 682.7,491.2 C687.0,490.1 691.4,489.1 695.8,489.2 C700.2,489.4 704.8,490.1 708.9,492.0 C713.0,494.0 717.7,497.9 720.4,501.1 C723.2,504.2 725.0,507.1 725.4,510.9 C725.8,514.7 725.1,520.2 722.9,524.0 C720.7,527.9 716.2,530.8 712.2,533.9 C708.3,537.0 703.2,540.6 699.1,542.9 C695.0,545.3 691.4,547.7 687.6,547.9 C683.8,548.0 679.7,545.0 676.1,543.8 C672.5,542.5 669.0,542.7 666.2,540.5 C663.5,538.3 661.1,534.2 659.7,530.6 C658.3,527.1 657.6,523.2 657.7,519.1Z" fill="#d9b2c1" stroke="#8c6c7a" stroke-width="1"/>
<circle cx="691.2" cy="527.3" r="10.2" fill="#b9708d" stroke="#8b5269" stroke-width="1"/>
<circle cx="667.1" cy="507.6" r="1.5" fill="#8f4a66"/>
<circle cx="673.6" cy="508.4" r="1.5" fill="#8f4a66"/>
<circle cx="682.3" cy="503.2" r="1.5" fill="#8f4a66"/>
<circle cx="692.2" cy="501.9" r="1.5" fill="#8f4a66"/>
<circle cx="703.7" cy="497.4" r="1.5" fill="#8f4a66"/>
<circle cx="695.0" cy="509.3" r="1.5" fill="#8f4a66"/>
<circle cx="703.2" cy="508.9" r="1.5" fill="#8f4a66"/>
<circle cx="716.8" cy="508.9" r="1.5" fill="#8f4a66"/>
<circle cx="665.9" cy="516.2" r="1.5" fill="#8f4a66"/>
<circle cx="683.5" cy="516.2" r="1.5" fill="#8f4a66"/>
<circle cx="702.0" cy="517.2" r="1.5" fill="#8f4a66"/>
<circle cx="710.3" cy="518.8" r="1.5" fill="#8f4a66"/>
<circle cx="672.5" cy="522.4" r="1.5" fill="#8f4a66"/>
<circle cx="673.6" cy="530.3" r="1.5" fill="#8f4a66"/>
<line x1="752.2" y1="491.2" x2="721.3" y2="491.2" stroke="#111" stroke-width="2"/>
<ellipse cx="721.3" cy="491.2" rx="21.3" ry="10.3" fill="url(#gS)" stroke="#8d7a6c" stroke-width="0.9"/>
<text class="st" x="721.0" y="495.6" text-anchor="middle" stroke="#1a1a1a" stroke-width="0.45">STAT3</text>
<circle cx="752.2" cy="491.2" r="7.2" fill="#a9d78e" stroke="#6fae55" stroke-width="0.9"/>
<text x="752.4" y="495.6" text-anchor="middle" font-size="12" fill="#1a1a1a">P</text>
<text class="lb" x="675.3" y="569.2" text-anchor="start">NK cell</text>
<circle cx="545.8" cy="599.2" r="31.2" fill="#fbdccb" stroke="#8c8079" stroke-width="1"/>
<circle cx="544.9" cy="599.2" r="19.0" fill="url(#gCD8)"/>
<line x1="611.8" y1="574.6" x2="580.0" y2="575.0" stroke="#111" stroke-width="2"/>
<ellipse cx="580.0" cy="575.0" rx="21.3" ry="10.3" fill="url(#gS)" stroke="#8d7a6c" stroke-width="0.9"/>
<text class="st" x="579.7" y="579.4" text-anchor="middle" stroke="#1a1a1a" stroke-width="0.45">STAT3</text>
<circle cx="611.8" cy="574.6" r="7.2" fill="#a9d78e" stroke="#6fae55" stroke-width="0.9"/>
<text x="612.0" y="579.0" text-anchor="middle" font-size="12" fill="#1a1a1a">P</text>
<text class="lb" x="505.6" y="652.6">CD8<tspan dy="-5" font-size="11">+</tspan><tspan dy="5"> T</tspan><tspan x="570.3">cell</tspan></text>
<line x1="122.0" y1="724.6" x2="155.8" y2="724.6" stroke="#111" stroke-width="2"/>
<ellipse cx="155.8" cy="724.6" rx="21.3" ry="10.3" fill="url(#gS)" stroke="#8d7a6c" stroke-width="0.9"/>
<text class="st" x="155.5" y="729.0" text-anchor="middle" stroke="#1a1a1a" stroke-width="0.45">STAT3</text>
<circle cx="122.0" cy="724.6" r="7.2" fill="#a9d78e" stroke="#6fae55" stroke-width="0.9"/>
<text x="122.2" y="729.0" text-anchor="middle" font-size="12" fill="#1a1a1a">P</text>
<path d="M627.5,273.1 C627.9,276.2 626.8,279.9 624.4,282.8 C622.1,285.7 617.5,289.5 613.1,290.6 C608.8,291.7 602.5,290.5 598.4,289.3 C594.2,288.2 590.1,286.1 588.1,283.5 C586.1,280.9 585.0,276.8 586.3,274.0 C587.6,271.1 592.2,268.3 595.9,266.3 C599.6,264.3 604.3,262.1 608.7,261.8 C613.1,261.5 619.0,262.6 622.2,264.5 C625.3,266.4 627.2,270.1 627.5,273.1Z" fill="url(#gT2)" stroke="#425f88" stroke-width="1"/>
<ellipse cx="601.6" cy="275.9" rx="5.5" ry="3.6" fill="#2d60c2" stroke="#1f4088" stroke-width="1.1" transform="rotate(-5 601.6 275.9)"/>
<path d="M615.9,308.0 C615.3,311.0 613.4,314.4 610.3,316.1 C607.3,317.8 601.6,318.9 597.6,318.3 C593.5,317.7 589.0,314.8 586.1,312.5 C583.3,310.3 581.4,307.4 580.5,304.6 C579.6,301.9 579.0,298.2 580.6,295.9 C582.2,293.7 586.5,292.2 590.3,291.3 C594.1,290.5 599.6,289.5 603.6,290.7 C607.6,291.9 612.2,295.5 614.2,298.4 C616.3,301.2 616.6,305.1 615.9,308.0Z" fill="url(#gT2)" stroke="#425f88" stroke-width="1"/>
<ellipse cx="594.0" cy="302.4" rx="5.5" ry="3.6" fill="#2d60c2" stroke="#1f4088" stroke-width="1.1" transform="rotate(20 594.0 302.4)"/>
<path d="M494.7,265.3 C494.6,269.5 494.5,274.6 492.6,277.8 C490.8,280.9 486.7,283.6 483.3,284.4 C480.0,285.2 475.0,285.0 472.4,282.8 C469.8,280.6 468.5,275.0 467.7,271.1 C466.8,267.2 466.5,262.8 467.5,259.4 C468.5,256.0 471.2,252.6 473.8,250.7 C476.4,248.9 479.9,248.1 483.0,248.4 C486.2,248.7 490.8,249.9 492.8,252.7 C494.7,255.5 494.7,261.1 494.7,265.3Z" fill="url(#gT2)" stroke="#425f88" stroke-width="1"/>
<ellipse cx="479.8" cy="265.0" rx="5.5" ry="3.6" fill="#2d60c2" stroke="#1f4088" stroke-width="1.1" transform="rotate(85 479.8 265.0)"/>
<path d="M425.4,297.2 C424.5,301.4 423.3,306.9 420.6,309.7 C417.9,312.4 413.0,313.7 409.3,313.7 C405.7,313.7 400.5,312.5 398.5,309.6 C396.4,306.7 396.5,300.4 396.8,296.1 C397.0,291.8 398.1,287.6 400.1,284.0 C402.0,280.3 405.1,275.6 408.4,274.1 C411.7,272.5 416.8,273.1 419.7,274.9 C422.7,276.7 425.0,281.3 425.9,285.0 C426.9,288.7 426.3,293.1 425.4,297.2Z" fill="url(#gT2)" stroke="#425f88" stroke-width="1"/>
<ellipse cx="409.7" cy="291.8" rx="5.5" ry="3.6" fill="#2d60c2" stroke="#1f4088" stroke-width="1.1" transform="rotate(75 409.7 291.8)"/>
<path d="M472.8,278.7 C472.9,283.6 466.5,288.9 463.0,293.6 C459.6,298.3 456.9,305.1 452.1,306.8 C447.2,308.5 440.0,305.5 434.0,304.0 C428.1,302.5 418.7,301.5 416.4,297.7 C414.0,293.9 418.6,286.5 420.0,281.1 C421.3,275.6 420.6,268.6 424.6,265.0 C428.6,261.5 437.4,259.9 443.7,259.8 C450.0,259.6 457.6,261.0 462.5,264.2 C467.3,267.3 472.7,273.8 472.8,278.7Z" fill="url(#gT1)" stroke="#425f88" stroke-width="1"/>
<circle cx="449.8" cy="279.8" r="7.5" fill="#2f8ad0" stroke="#245a8e" stroke-width="1.4"/>
<path d="M538.0,276.5 C538.4,281.2 536.5,287.8 533.7,291.5 C530.8,295.3 525.5,298.3 521.0,299.1 C516.5,300.0 510.6,299.0 506.7,296.6 C502.8,294.1 499.3,289.1 497.6,284.3 C495.8,279.6 494.7,272.6 496.3,268.1 C497.9,263.6 503.1,260.0 507.2,257.4 C511.4,254.8 517.1,251.6 521.2,252.5 C525.2,253.5 528.9,259.3 531.7,263.3 C534.5,267.3 537.7,271.8 538.0,276.5Z" fill="url(#gT1)" stroke="#425f88" stroke-width="1"/>
<circle cx="519.0" cy="276.3" r="7.5" fill="#2f8ad0" stroke="#245a8e" stroke-width="1.4"/>
<path d="M643.3,342.2 C643.1,346.1 640.9,351.4 637.8,354.3 C634.8,357.2 629.0,360.0 625.0,359.7 C621.0,359.4 617.0,355.3 613.8,352.4 C610.5,349.5 606.5,346.3 605.5,342.4 C604.6,338.6 606.0,332.9 608.1,329.3 C610.3,325.7 614.6,321.9 618.4,320.9 C622.2,319.9 627.2,321.7 630.7,323.4 C634.1,325.0 636.9,327.7 639.1,330.9 C641.2,334.0 643.5,338.3 643.3,342.2Z" fill="url(#gT2)" stroke="#425f88" stroke-width="1"/>
<ellipse cx="622.6" cy="337.4" rx="5.5" ry="3.6" fill="#2d60c2" stroke="#1f4088" stroke-width="1.1" transform="rotate(70 622.6 337.4)"/>
<path d="M642.1,400.5 C643.6,404.0 645.3,409.1 644.2,412.6 C643.2,416.0 638.9,419.3 635.5,420.9 C632.2,422.6 628.0,422.9 624.3,422.3 C620.7,421.7 616.2,420.1 613.7,417.4 C611.2,414.6 609.5,409.7 609.5,405.8 C609.4,402.0 611.1,397.3 613.5,394.4 C615.9,391.5 620.2,389.0 623.8,388.5 C627.4,388.0 632.1,389.5 635.1,391.5 C638.2,393.5 640.6,397.0 642.1,400.5Z" fill="url(#gT2)" stroke="#425f88" stroke-width="1"/>
<ellipse cx="626.0" cy="404.5" rx="5.5" ry="3.6" fill="#2d60c2" stroke="#1f4088" stroke-width="1.1" transform="rotate(70 626.0 404.5)"/>
<path d="M433.1,373.8 C434.2,377.4 433.1,383.1 430.5,386.5 C427.9,389.9 422.3,392.8 417.7,394.1 C413.1,395.4 407.2,395.8 403.0,394.5 C398.8,393.3 395.3,390.1 392.7,386.8 C390.1,383.6 386.4,378.6 387.4,375.0 C388.3,371.4 394.5,367.6 398.5,365.4 C402.5,363.1 407.3,361.8 411.6,361.7 C415.9,361.6 420.8,362.6 424.4,364.6 C428.0,366.6 432.1,370.1 433.1,373.8Z" fill="url(#gT2)" stroke="#425f88" stroke-width="1"/>
<ellipse cx="408.0" cy="375.7" rx="5.5" ry="3.6" fill="#2d60c2" stroke="#1f4088" stroke-width="1.1" transform="rotate(5 408.0 375.7)"/>
<path d="M450.1,417.2 C448.7,421.3 444.5,425.5 441.0,427.9 C437.4,430.2 432.7,431.8 428.9,431.3 C425.0,430.9 420.0,428.7 418.0,425.4 C416.1,422.2 416.8,416.3 417.2,411.9 C417.6,407.5 418.0,402.6 420.3,399.0 C422.5,395.4 427.0,391.5 430.8,390.3 C434.6,389.2 440.0,390.1 443.2,392.3 C446.3,394.5 448.3,399.2 449.5,403.4 C450.6,407.6 451.6,413.2 450.1,417.2Z" fill="url(#gT2)" stroke="#425f88" stroke-width="1"/>
<ellipse cx="436.0" cy="407.5" rx="5.5" ry="3.6" fill="#2d60c2" stroke="#1f4088" stroke-width="1.1" transform="rotate(-35 436.0 407.5)"/>
<path d="M466.6,333.0 C466.8,338.7 466.9,346.1 464.3,350.5 C461.7,355.0 455.5,358.7 450.9,359.5 C446.2,360.3 440.1,358.4 436.3,355.4 C432.5,352.3 430.1,346.6 428.3,341.2 C426.4,335.9 424.1,328.9 425.3,323.4 C426.4,318.0 431.1,311.4 435.4,308.7 C439.6,306.0 446.1,306.0 450.7,307.3 C455.4,308.6 460.8,312.0 463.5,316.3 C466.1,320.5 466.5,327.3 466.6,333.0Z" fill="url(#gT1)" stroke="#425f88" stroke-width="1"/>
<circle cx="450.2" cy="333.0" r="7.5" fill="#2f8ad0" stroke="#245a8e" stroke-width="1.4"/>
<path d="M545.7,324.0 C545.2,329.2 540.8,334.5 537.8,338.0 C534.9,341.4 531.7,343.1 527.8,344.7 C523.9,346.3 517.7,349.7 514.6,347.5 C511.4,345.3 509.9,336.7 509.0,331.5 C508.2,326.4 508.3,321.5 509.3,316.6 C510.4,311.7 512.3,304.9 515.4,302.4 C518.5,299.8 523.9,300.5 528.1,301.3 C532.3,302.1 537.7,303.2 540.6,307.0 C543.5,310.8 546.2,318.8 545.7,324.0Z" fill="url(#gT1)" stroke="#425f88" stroke-width="1"/>
<circle cx="523.4" cy="317.6" r="7.5" fill="#2f8ad0" stroke="#245a8e" stroke-width="1.4"/>
<path d="M611.1,346.5 C611.0,352.3 608.3,360.5 605.6,365.1 C602.8,369.7 597.8,374.0 594.4,373.9 C591.1,373.9 588.0,368.3 585.3,364.8 C582.6,361.3 579.1,357.9 578.3,352.9 C577.5,348.0 578.9,340.2 580.6,334.9 C582.2,329.6 585.2,323.5 588.2,321.3 C591.2,319.1 595.5,320.2 598.5,321.7 C601.5,323.2 604.1,326.2 606.2,330.3 C608.4,334.5 611.3,340.7 611.1,346.5Z" fill="url(#gT3)" stroke="#425f88" stroke-width="1"/>
<circle cx="596.4" cy="337.4" r="7.5" fill="#2f8ad0" stroke="#245a8e" stroke-width="1.4"/>
<path d="M516.9,356.0 C517.5,360.7 515.1,368.1 511.3,371.4 C507.6,374.7 500.3,374.9 494.5,375.9 C488.7,376.9 480.6,379.7 476.4,377.5 C472.1,375.4 470.6,367.8 468.9,362.9 C467.1,358.0 464.2,352.1 466.0,348.1 C467.7,344.1 474.5,341.5 479.3,339.0 C484.2,336.4 490.4,332.2 495.1,332.9 C499.9,333.6 504.3,339.3 507.9,343.1 C511.5,347.0 516.3,351.3 516.9,356.0Z" fill="url(#gT1)" stroke="#425f88" stroke-width="1"/>
<circle cx="481.5" cy="347.2" r="7.5" fill="#2f8ad0" stroke="#245a8e" stroke-width="1.4"/>
<path d="M467.2,379.6 C465.9,384.4 463.3,391.0 459.5,393.9 C455.7,396.8 448.5,398.2 444.3,397.0 C440.1,395.8 437.1,390.6 434.1,386.8 C431.2,382.9 426.9,378.5 426.7,373.9 C426.6,369.2 430.1,362.2 433.4,358.9 C436.7,355.5 442.0,355.2 446.6,353.9 C451.2,352.6 457.7,349.2 461.1,351.1 C464.5,352.9 466.1,360.4 467.1,365.2 C468.1,369.9 468.5,374.8 467.2,379.6Z" fill="url(#gT1)" stroke="#425f88" stroke-width="1"/>
<circle cx="450.2" cy="377.7" r="7.5" fill="#2f8ad0" stroke="#245a8e" stroke-width="1.4"/>
<path d="M556.8,372.0 C556.8,376.2 556.7,382.1 554.3,384.7 C551.9,387.3 546.3,387.2 542.6,387.6 C538.9,387.9 535.4,388.2 532.0,386.7 C528.6,385.3 523.5,382.4 522.1,378.9 C520.7,375.4 521.6,369.1 523.3,365.6 C525.0,362.1 529.1,359.7 532.3,357.9 C535.6,356.1 539.2,354.7 542.8,355.0 C546.5,355.2 552.0,356.4 554.3,359.3 C556.6,362.1 556.8,367.8 556.8,372.0Z" fill="url(#gT1)" stroke="#425f88" stroke-width="1"/>
<circle cx="540.0" cy="374.0" r="7.5" fill="#2f8ad0" stroke="#245a8e" stroke-width="1.4"/>
<path d="M582.8,365.0 C581.7,369.3 577.9,373.5 575.0,376.2 C572.0,378.9 568.6,380.8 565.2,381.3 C561.8,381.7 556.9,381.5 554.7,379.0 C552.4,376.4 552.3,370.5 551.8,365.9 C551.3,361.4 549.9,355.7 551.5,351.6 C553.0,347.5 557.6,342.6 561.0,341.4 C564.3,340.2 568.2,343.0 571.6,344.5 C574.9,346.0 579.2,346.9 581.1,350.3 C583.0,353.7 583.8,360.6 582.8,365.0Z" fill="url(#gT1)" stroke="#425f88" stroke-width="1"/>
<circle cx="567.0" cy="353.8" r="7.5" fill="#2f8ad0" stroke="#245a8e" stroke-width="1.4"/>
<path d="M569.7,385.0 C568.3,388.6 565.6,392.4 562.7,394.7 C559.8,396.9 555.0,399.2 552.1,398.5 C549.3,397.8 546.8,393.5 545.3,390.5 C543.8,387.6 543.4,384.4 543.3,380.9 C543.2,377.3 542.9,371.9 544.8,369.2 C546.6,366.5 551.4,365.1 554.5,364.5 C557.7,363.9 561.0,364.2 563.7,365.6 C566.5,367.0 570.0,369.6 570.9,372.9 C571.9,376.1 571.0,381.3 569.7,385.0Z" fill="url(#gT2)" stroke="#425f88" stroke-width="1"/>
<ellipse cx="555.0" cy="383.0" rx="5.5" ry="3.6" fill="#2d60c2" stroke="#1f4088" stroke-width="1.1" transform="rotate(70 555.0 383.0)"/>
<path d="M604.4,389.0 C604.3,392.5 602.7,396.2 600.2,399.2 C597.7,402.1 593.6,406.1 589.6,406.7 C585.7,407.3 580.1,404.9 576.6,402.9 C573.1,400.8 570.2,397.7 568.6,394.4 C567.0,391.1 565.7,386.4 566.9,383.1 C568.1,379.7 572.2,375.8 576.0,374.2 C579.7,372.5 585.1,372.4 589.3,373.1 C593.5,373.7 598.7,375.4 601.3,378.1 C603.8,380.7 604.6,385.5 604.4,389.0Z" fill="url(#gT1)" stroke="#425f88" stroke-width="1"/>
<circle cx="581.7" cy="386.6" r="7.5" fill="#2f8ad0" stroke="#245a8e" stroke-width="1.4"/>
<path d="M491.9,405.1 C491.3,409.5 487.8,414.4 484.8,417.9 C481.7,421.5 477.2,426.2 473.6,426.4 C470.0,426.5 465.9,422.0 463.2,418.7 C460.4,415.4 457.4,411.2 456.9,406.7 C456.4,402.3 458.2,396.2 460.2,392.0 C462.3,387.8 465.7,384.1 469.4,381.7 C473.0,379.4 479.0,376.5 482.2,378.1 C485.4,379.7 487.0,386.8 488.6,391.3 C490.2,395.8 492.6,400.6 491.9,405.1Z" fill="url(#gT3)" stroke="#425f88" stroke-width="1"/>
<circle cx="474.0" cy="407.5" r="7.5" fill="#2f8ad0" stroke="#245a8e" stroke-width="1.4"/>
<path d="M532.4,403.6 C531.1,408.0 527.9,412.4 524.5,414.8 C521.1,417.2 516.4,417.7 512.0,418.0 C507.6,418.2 501.4,418.8 498.3,416.3 C495.2,413.9 493.8,407.6 493.3,403.3 C492.8,399.0 493.4,394.1 495.4,390.4 C497.3,386.7 501.2,383.0 505.2,381.3 C509.2,379.5 514.8,378.8 519.3,380.0 C523.7,381.2 529.8,384.5 532.0,388.4 C534.2,392.4 533.7,399.2 532.4,403.6Z" fill="url(#gT1)" stroke="#425f88" stroke-width="1"/>
<circle cx="512.0" cy="403.5" r="7.5" fill="#2f8ad0" stroke="#245a8e" stroke-width="1.4"/>
<path d="M569.8,399.4 C571.2,403.3 571.6,408.3 570.5,412.3 C569.4,416.4 566.8,421.1 563.3,423.7 C559.8,426.2 553.6,428.5 549.6,427.5 C545.5,426.5 541.4,421.4 538.9,417.7 C536.4,414.0 534.6,409.4 534.5,405.2 C534.3,401.0 535.7,396.2 538.1,392.5 C540.5,388.8 544.8,383.6 548.8,383.0 C552.8,382.4 558.6,386.1 562.1,388.8 C565.6,391.6 568.4,395.5 569.8,399.4Z" fill="url(#gT1)" stroke="#425f88" stroke-width="1"/>
<circle cx="552.8" cy="408.0" r="7.5" fill="#2f8ad0" stroke="#245a8e" stroke-width="1.4"/>
<path d="M551.3,430.0 C550.7,432.9 549.7,436.0 547.2,438.0 C544.7,439.9 540.5,441.3 536.5,441.8 C532.4,442.3 526.2,442.6 522.9,440.9 C519.5,439.2 517.4,434.9 516.3,431.7 C515.2,428.5 514.4,424.3 516.1,421.8 C517.9,419.3 523.2,418.1 527.0,416.9 C530.8,415.8 535.0,414.5 539.0,415.0 C543.0,415.6 549.1,417.6 551.1,420.1 C553.2,422.6 552.0,427.0 551.3,430.0Z" fill="url(#gT2)" stroke="#425f88" stroke-width="1"/>
<ellipse cx="528.5" cy="428.0" rx="5.5" ry="3.6" fill="#2d60c2" stroke="#1f4088" stroke-width="1.1" transform="rotate(5 528.5 428.0)"/>
<path d="M583.4,455.9 C581.4,459.5 577.6,463.0 573.9,464.6 C570.1,466.2 564.4,467.2 561.0,465.7 C557.6,464.3 555.2,459.5 553.3,455.9 C551.5,452.4 549.5,448.2 549.9,444.1 C550.3,440.1 552.7,434.8 555.8,431.9 C558.9,429.0 564.6,426.5 568.5,426.8 C572.3,427.1 575.8,431.2 578.8,433.9 C581.7,436.6 585.5,439.6 586.2,443.3 C587.0,446.9 585.5,452.4 583.4,455.9Z" fill="url(#gT2)" stroke="#425f88" stroke-width="1"/>
<ellipse cx="567.5" cy="445.3" rx="5.5" ry="3.6" fill="#2d60c2" stroke="#1f4088" stroke-width="1.1" transform="rotate(65 567.5 445.3)"/>
<path d="M518.9,473.5 C519.0,477.2 517.9,481.9 516.3,485.0 C514.7,488.1 512.0,491.4 509.5,492.3 C506.9,493.1 503.3,492.3 501.0,490.2 C498.6,488.2 496.1,483.8 495.4,480.1 C494.7,476.3 496.0,471.6 496.9,467.7 C497.8,463.8 498.8,458.4 500.9,456.6 C502.9,454.7 506.8,455.6 509.3,456.6 C511.7,457.6 514.1,460.0 515.7,462.8 C517.3,465.6 518.8,469.8 518.9,473.5Z" fill="url(#gT2)" stroke="#425f88" stroke-width="1"/>
<ellipse cx="506.7" cy="470.7" rx="5.5" ry="3.6" fill="#2d60c2" stroke="#1f4088" stroke-width="1.1" transform="rotate(88 506.7 470.7)"/>
<path d="M562.8,468.5 C562.8,473.9 561.5,480.5 558.5,484.6 C555.6,488.7 549.9,492.1 545.0,493.1 C540.1,494.2 533.1,493.6 529.2,490.8 C525.4,487.9 523.7,481.3 521.9,476.1 C520.1,470.9 517.0,464.2 518.4,459.5 C519.7,454.8 525.6,450.4 530.1,447.8 C534.5,445.2 540.2,443.1 545.0,443.9 C549.7,444.6 555.6,448.3 558.6,452.4 C561.5,456.5 562.8,463.1 562.8,468.5Z" fill="url(#gT1)" stroke="#425f88" stroke-width="1"/>
<circle cx="542.7" cy="467.5" r="7.5" fill="#2f8ad0" stroke="#245a8e" stroke-width="1.4"/>
<g transform="rotate(-32.7 465.3 445.3)"><path d="M460.3,402 H470.6 Q472.6,402 472.8,404 L474.6,485 Q474.6,489 470.6,489 H460 Q456,489 456,485 L458.1,404 Q458.3,402 460.3,402Z" fill="#f5987c" fill-opacity="0.86" stroke="#c46b52" stroke-width="1"/><ellipse cx="465.3" cy="425" rx="3.8" ry="8" fill="#ec7c7c" fill-opacity="0.75"/></g>
<path d="M584.0,456.0 Q589.2,450.6 597.5,438.0 Q605.3,430.3 615.8,427.0 Q628.5,424.3 634.7,422.7 Q630.8,427.8 621.2,440.7 Q613.4,448.4 602.9,451.7 Q590.0,454.1 584.0,456.0Z" fill="#e6d4bf" stroke="#8d8378" stroke-width="1"/>
<ellipse cx="609.4" cy="439.4" rx="8.5" ry="4.5" fill="#cabeb1" transform="rotate(-33.3 609.4 439.4)"/>
<path d="M570.7,419.6 C570.8,416.6 571.3,412.8 572.7,410.0 C574.2,407.2 576.6,404.6 579.3,402.8 C582.0,401.0 585.7,400.1 588.9,399.2 C592.1,398.4 595.3,397.7 598.5,397.8 C601.7,397.9 605.1,398.4 608.1,399.8 C611.1,401.3 614.5,404.1 616.5,406.4 C618.5,408.7 619.8,410.8 620.1,413.6 C620.4,416.4 619.9,420.4 618.3,423.2 C616.7,426.0 613.4,428.1 610.5,430.4 C607.6,432.7 603.9,435.3 600.9,437.0 C597.9,438.7 595.3,440.5 592.5,440.6 C589.7,440.7 586.7,438.5 584.1,437.6 C581.5,436.7 578.9,436.8 576.9,435.2 C574.9,433.6 573.2,430.6 572.1,428.0 C571.1,425.4 570.6,422.6 570.7,419.6Z" fill="#d9b2c1" stroke="#8c6c7a" stroke-width="1"/>
<circle cx="595.1" cy="425.6" r="7.4" fill="#b9708d" stroke="#8b5269" stroke-width="1"/>
<circle cx="577.5" cy="411.2" r="1.1" fill="#8f4a66"/>
<circle cx="582.3" cy="411.8" r="1.1" fill="#8f4a66"/>
<circle cx="588.7" cy="408.0" r="1.1" fill="#8f4a66"/>
<circle cx="595.9" cy="407.0" r="1.1" fill="#8f4a66"/>
<circle cx="604.3" cy="403.8" r="1.1" fill="#8f4a66"/>
<circle cx="597.9" cy="412.4" r="1.1" fill="#8f4a66"/>
<circle cx="603.9" cy="412.2" r="1.1" fill="#8f4a66"/>
<circle cx="613.8" cy="412.2" r="1.1" fill="#8f4a66"/>
<circle cx="576.7" cy="417.4" r="1.1" fill="#8f4a66"/>
<circle cx="589.5" cy="417.4" r="1.1" fill="#8f4a66"/>
<circle cx="603.1" cy="418.2" r="1.1" fill="#8f4a66"/>
<circle cx="609.0" cy="419.4" r="1.1" fill="#8f4a66"/>
<circle cx="581.5" cy="422.0" r="1.1" fill="#8f4a66"/>
<circle cx="582.3" cy="427.8" r="1.1" fill="#8f4a66"/>
<path d="M494.4,462.8 C490.5,461.7 485.5,458.5 482.5,455.7 C479.5,452.9 477.8,449.8 476.5,445.9 C475.1,442.1 474.3,437.2 474.5,432.5 C474.7,427.9 475.6,421.9 477.8,418.0 C480.0,414.2 484.4,410.8 487.7,409.2 C491.0,407.7 494.6,407.5 497.8,408.7 C501.0,409.8 504.1,412.6 506.7,416.1 C509.3,419.6 511.8,424.9 513.6,429.7 C515.4,434.5 517.8,440.5 517.4,445.1 C517.0,449.7 513.0,454.3 511.1,457.2 C509.1,460.1 508.6,461.6 505.8,462.5 C503.0,463.5 498.2,463.9 494.4,462.8Z" fill="#fad6d0" stroke="#9c8b87" stroke-width="1"/>
<circle cx="496.0" cy="435.7" r="9.7" fill="#f4a29c"/>
<path d="M638.9,374.6 C638.6,376.1 635.1,376.8 634.3,378.4 C633.5,380.0 635.3,383.1 634.3,384.3 C633.4,385.5 629.9,384.4 628.5,385.5 C627.1,386.6 627.2,390.2 625.8,390.8 C624.4,391.4 621.9,388.8 620.1,389.1 C618.3,389.4 616.8,392.6 615.2,392.5 C613.7,392.4 612.7,388.9 611.0,388.4 C609.3,387.8 606.4,389.9 605.1,389.1 C603.8,388.3 604.5,384.8 603.2,383.5 C602.0,382.2 598.4,382.7 597.7,381.4 C596.9,380.1 599.1,377.3 598.6,375.5 C598.1,373.8 594.7,372.7 594.7,371.1 C594.6,369.6 597.9,368.1 598.2,366.4 C598.6,364.7 596.1,362.0 596.8,360.6 C597.4,359.3 601.0,359.5 602.2,358.1 C603.3,356.7 602.3,353.3 603.5,352.3 C604.8,351.4 607.8,353.3 609.5,352.6 C611.1,351.9 611.9,348.4 613.4,348.1 C614.9,347.9 616.7,351.0 618.5,351.1 C620.3,351.3 622.6,348.5 624.1,349.0 C625.5,349.5 625.7,353.1 627.2,354.0 C628.7,355.0 632.0,353.6 633.1,354.7 C634.2,355.8 632.7,359.1 633.6,360.6 C634.5,362.2 638.0,362.5 638.5,363.9 C638.9,365.4 636.0,367.6 636.1,369.4 C636.2,371.2 639.2,373.1 638.9,374.6Z" fill="url(#gNeu)" stroke="#d98d88" stroke-width="1"/>
<rect x="607.9" y="357.2" width="2.4" height="2.4" rx="0.6" fill="#f4909a"/>
<rect x="616.5" y="355.2" width="2.4" height="2.4" rx="0.6" fill="#f4909a"/>
<rect x="623.9" y="355.2" width="2.4" height="2.4" rx="0.6" fill="#f4909a"/>
<rect x="606.1" y="363.5" width="2.4" height="2.4" rx="0.6" fill="#f4909a"/>
<rect x="611.6" y="363.8" width="2.4" height="2.4" rx="0.6" fill="#f4909a"/>
<rect x="619.6" y="363.0" width="2.4" height="2.4" rx="0.6" fill="#f4909a"/>
<rect x="626.0" y="363.7" width="2.4" height="2.4" rx="0.6" fill="#f4909a"/>
<rect x="600.3" y="367.9" width="2.4" height="2.4" rx="0.6" fill="#f4909a"/>
<rect x="608.0" y="369.3" width="2.4" height="2.4" rx="0.6" fill="#f4909a"/>
<rect x="614.5" y="369.5" width="2.4" height="2.4" rx="0.6" fill="#f4909a"/>
<rect x="622.7" y="368.5" width="2.4" height="2.4" rx="0.6" fill="#f4909a"/>
<rect x="631.3" y="369.0" width="2.4" height="2.4" rx="0.6" fill="#f4909a"/>
<rect x="606.1" y="374.2" width="2.4" height="2.4" rx="0.6" fill="#f4909a"/>
<rect x="612.8" y="376.4" width="2.4" height="2.4" rx="0.6" fill="#f4909a"/>
<rect x="618.2" y="376.2" width="2.4" height="2.4" rx="0.6" fill="#f4909a"/>
<rect x="626.4" y="375.7" width="2.4" height="2.4" rx="0.6" fill="#f4909a"/>
<rect x="608.1" y="381.5" width="2.4" height="2.4" rx="0.6" fill="#f4909a"/>
<rect x="615.9" y="382.6" width="2.4" height="2.4" rx="0.6" fill="#f4909a"/>
<rect x="622.1" y="382.6" width="2.4" height="2.4" rx="0.6" fill="#f4909a"/>
<path d="M555.7,299.1 C558.0,299.2 561.3,301.3 563.1,303.1 C564.9,304.9 565.3,307.8 566.5,309.9 C567.7,311.9 568.5,314.1 570.5,315.2 C572.6,316.4 576.5,316.1 578.6,317.0 C580.7,317.9 582.9,319.1 583.3,320.6 C583.8,322.1 582.4,324.4 581.3,326.0 C580.2,327.6 577.7,328.6 576.6,330.1 C575.5,331.5 575.0,333.3 574.6,334.8 C574.1,336.2 574.7,337.7 573.9,338.8 C573.1,339.9 571.4,341.2 569.9,341.5 C568.3,341.8 566.2,341.1 564.5,340.8 C562.8,340.6 561.2,339.7 559.8,340.2 C558.3,340.6 557.3,342.4 555.7,343.5 C554.2,344.6 552.1,346.6 550.3,346.9 C548.5,347.2 546.5,346.4 545.0,345.5 C543.4,344.6 541.8,343.1 540.9,341.5 C540.0,339.9 540.1,337.9 539.6,336.1 C539.0,334.3 538.7,332.2 537.5,330.7 C536.4,329.3 534.3,328.6 532.8,327.4 C531.4,326.1 529.1,324.6 528.8,323.3 C528.5,322.1 529.5,320.9 530.8,320.0 C532.2,319.1 534.7,318.7 536.9,317.9 C539.0,317.2 542.0,316.7 543.6,315.2 C545.2,313.8 545.3,311.3 546.3,309.2 C547.3,307.1 548.1,304.1 549.7,302.5 C551.2,300.8 553.5,299.0 555.7,299.1Z" fill="url(#gMac)" stroke="#74b257" stroke-width="1.3"/>
<ellipse cx="555.4" cy="322.4" rx="8.4" ry="6.7" fill="#e9f2e2" stroke="#74b257" stroke-width="1.1"/>
<circle cx="563.6" cy="281.0" r="24.1" fill="#cbc1b3" stroke="#857d73" stroke-width="1"/>
<circle cx="565.0" cy="282.0" r="15.5" fill="url(#gTreg)"/>
<circle cx="485.9" cy="308.9" r="24.4" fill="#fbdccb" stroke="#8c8079" stroke-width="1"/>
<circle cx="485.2" cy="308.9" r="15.0" fill="url(#gCD8)"/>
<path d="M403.3,297.5 C404.0,299.3 404.7,308.0 406.3,310.5 C407.9,313.1 411.8,316.7 414.7,315.9 C417.6,315.0 423.0,307.5 426.9,304.4 C430.9,301.3 440.6,294.9 443.0,293.7 C445.4,292.6 445.8,294.1 444.0,296.0 C442.3,297.9 433.8,304.2 430.8,307.5 C427.7,310.8 423.3,316.9 422.4,319.7 C421.4,322.5 423.2,325.2 423.9,327.3 C424.5,329.5 425.2,333.4 426.9,335.0 C428.7,336.6 433.3,338.1 436.1,338.8 C438.9,339.4 445.3,339.1 446.8,339.5 C448.3,340.0 448.4,341.4 446.8,341.8 C445.2,342.3 438.5,342.5 435.3,342.6 C432.1,342.7 425.7,342.0 423.9,342.6 C422.1,343.2 421.5,345.0 422.4,347.2 C423.2,349.3 427.2,354.1 430.0,357.9 C432.8,361.6 440.8,371.4 442.2,373.9 C443.7,376.4 442.5,377.2 440.4,375.4 C438.2,373.6 430.2,364.7 426.9,360.9 C423.7,357.2 418.9,350.1 417.0,348.7 C415.1,347.3 413.8,349.2 413.2,351.0 C412.6,352.8 412.8,360.1 412.4,361.7 C412.1,363.2 411.1,363.3 410.5,362.1 C409.8,361.0 409.2,355.4 407.9,353.3 C406.5,351.2 403.0,347.2 401.0,347.2 C399.0,347.2 394.9,351.4 393.3,353.3 C391.8,355.2 390.7,359.8 390.0,360.6 C389.2,361.5 388.0,360.9 388.0,359.4 C388.0,357.9 390.2,352.4 390.3,350.2 C390.4,348.1 390.5,344.3 388.8,344.1 C387.1,343.9 380.9,347.3 378.1,348.7 C375.3,350.2 370.3,354.0 368.9,354.5 C367.5,355.0 366.6,354.0 367.8,352.5 C369.1,351.1 375.6,346.4 378.1,344.1 C380.6,341.9 385.1,338.6 385.7,336.5 C386.4,334.4 384.9,330.4 382.7,328.9 C380.4,327.4 371.5,326.5 369.7,325.8 C367.9,325.1 367.9,323.6 369.7,323.5 C371.5,323.4 379.3,325.3 382.7,325.0 C386.0,324.8 391.1,323.8 393.3,322.0 C395.6,320.2 397.6,315.4 398.7,312.1 C399.8,308.7 400.6,300.0 401.3,298.0 C401.9,296.0 402.6,295.8 403.3,297.5Z" fill="#f9c290" stroke="#a97c58" stroke-width="1"/>
<ellipse cx="405.3" cy="333.0" rx="9.1" ry="6.1" fill="#fbd0a6" stroke="#a0683c" stroke-width="1" transform="rotate(-25 405.3 333.0)"/>
<line x1="540" y1="362" x2="556" y2="362" stroke="#111" stroke-width="2"/>
<circle cx="560.7" cy="362" r="9.8" fill="#a9d78e" stroke="#6fae55" stroke-width="1"/>
<text x="561" y="369" text-anchor="middle" font-size="19.5" fill="#111" stroke="#111" stroke-width="0.4">P</text>
<ellipse cx="511" cy="360.7" rx="34.3" ry="17" fill="url(#gS)" stroke="#8d7a6c" stroke-width="1"/>
<text x="510.3" y="369" text-anchor="middle" font-size="22" font-weight="bold" fill="#111" letter-spacing="-1.6">STAT3</text>
<path d="M478.6,691.5 H510 V726 H524 L494,756.5 L464,726 H478.6Z" fill="url(#gArrow)"/>
<rect x="281.5" y="770" width="423" height="155" rx="20" fill="url(#gBox)"/>
<defs><radialGradient id="gTC" cx="0.5" cy="0.45" r="0.6"><stop offset="0" stop-color="#a3bad6"/><stop offset="1" stop-color="#7c9ac0"/></radialGradient></defs>
<path d="M310.8,814.9 C311.2,811.3 311.7,807.6 313.8,805.6 C316.0,803.6 321.0,801.7 325.1,801.5 C329.3,801.4 337.1,803.1 341.5,804.6 C346.0,806.2 352.4,808.9 354.9,811.8 C357.3,814.7 357.6,819.9 357.9,824.1 C358.3,828.3 357.7,835.5 356.9,839.5 C356.2,843.5 355.1,848.9 352.8,850.8 C350.5,852.6 345.4,852.3 341.5,851.8 C337.7,851.3 331.2,849.2 327.2,847.7 C323.2,846.2 317.3,844.3 314.9,841.5 C312.4,838.8 311.4,833.2 310.8,829.2 C310.2,825.2 310.3,818.4 310.8,814.9Z" fill="url(#gTC)" stroke="#76889c" stroke-width="1.3"/>
<circle cx="335.4" cy="826.8" r="8.8" fill="#2f88cc" stroke="#1c5f9a" stroke-width="1.3"/>
<line x1="385.2" y1="799.6" x2="353.4" y2="799.9" stroke="#111" stroke-width="2"/>
<ellipse cx="353.4" cy="799.9" rx="21.3" ry="10.3" fill="url(#gS)" stroke="#8d7a6c" stroke-width="0.9"/>
<text class="st" x="353.1" y="804.3" text-anchor="middle" stroke="#1a1a1a" stroke-width="0.45">STAT3</text>
<circle cx="385.2" cy="799.6" r="7.2" fill="#a9d78e" stroke="#6fae55" stroke-width="0.9"/>
<text x="385.4" y="804.0" text-anchor="middle" font-size="12" fill="#1a1a1a">P</text>
<text class="bb" x="290.8" y="891.4">Tumor cell</text>
<text class="bb" x="476.3" y="802.3" fill="#111" style="fill:#111">Proliferation</text>
<path d="M439.2,806.9 V786.9 M434.6,792.9 Q438.2,790.9 439.2,786.6 Q440.2,790.9 443.8,792.9" fill="none" stroke="#111" stroke-width="1.25"/>
<text class="bb" x="476.3" y="829.0" fill="#111" style="fill:#111">Survival</text>
<path d="M439.2,833.6 V813.6 M434.6,819.6 Q438.2,817.6 439.2,813.3 Q440.2,817.6 443.8,819.6" fill="none" stroke="#111" stroke-width="1.25"/>
<text class="bb" x="476.3" y="855.8" fill="#111" style="fill:#111">Metastasis</text>
<path d="M439.2,860.4 V840.4 M434.6,846.4 Q438.2,844.4 439.2,840.1 Q440.2,844.4 443.8,846.4" fill="none" stroke="#111" stroke-width="1.25"/>
<text class="bb" x="476.3" y="882.3" fill="#111" style="fill:#111">Angiogenesis</text>
<path d="M439.2,886.9 V866.9 M434.6,872.9 Q438.2,870.9 439.2,866.6 Q440.2,870.9 443.8,872.9" fill="none" stroke="#111" stroke-width="1.25"/>
<text class="bb" x="476.3" y="909.3" fill="#ee1111" style="fill:#ee1111">Immunosuppression</text>
<path d="M439.2,913.9 V893.9 M434.6,899.9 Q438.2,897.9 439.2,893.6 Q440.2,897.9 443.8,899.9" fill="none" stroke="#f0202a" stroke-width="1.25"/>
<g transform="translate(0.9 0.9)" fill="#666" stroke="#666" stroke-width="0.8" stroke-linejoin="round"><path d="M792,868 C799.8,868 805.8,873.2 805.8,879.8 C805.8,886.4 799.8,891.6 792,891.6 C790,891.6 788.2,891.3 786.5,890.7 L781.8,893.3 L783.3,888.8 C780.2,886.6 778.3,883.4 778.3,879.8 C778.3,873.2 784.3,868 792,868Z"/><path d="M804.8,877.5 C811.8,877.5 817.4,882.3 817.4,888.3 C817.4,891.5 815.8,894.3 813.2,896.3 L814.3,900 L810.2,898 C808.5,898.6 806.7,899 804.8,899 C797.8,899 792.2,894.2 792.2,888.3 C792.2,882.3 797.8,877.5 804.8,877.5Z"/></g>
<g transform="translate(0.0 0.0)" fill="#fff" stroke="#d4d4d4" stroke-width="0.5" stroke-linejoin="round"><path d="M792,868 C799.8,868 805.8,873.2 805.8,879.8 C805.8,886.4 799.8,891.6 792,891.6 C790,891.6 788.2,891.3 786.5,890.7 L781.8,893.3 L783.3,888.8 C780.2,886.6 778.3,883.4 778.3,879.8 C778.3,873.2 784.3,868 792,868Z"/><path d="M804.8,877.5 C811.8,877.5 817.4,882.3 817.4,888.3 C817.4,891.5 815.8,894.3 813.2,896.3 L814.3,900 L810.2,898 C808.5,898.6 806.7,899 804.8,899 C797.8,899 792.2,894.2 792.2,888.3 C792.2,882.3 797.8,877.5 804.8,877.5Z"/></g>
<circle cx="787.5" cy="875.5" r="1.6" fill="#fff" stroke="#777" stroke-width="0.7"/>
<circle cx="797.5" cy="875.5" r="1.6" fill="#fff" stroke="#777" stroke-width="0.7"/>
<circle cx="800.3" cy="884.8" r="1.6" fill="#fff" stroke="#777" stroke-width="0.7"/>
<circle cx="809.7" cy="884.8" r="1.6" fill="#fff" stroke="#777" stroke-width="0.7"/>
<text x="824.8" y="894.8" font-size="23.4" font-family="'Liberation Sans','Noto Sans CJK SC',sans-serif" fill="#505050">凯莱英药闻</text>
<text x="823.7" y="893.7" font-size="23.4" font-family="'Liberation Sans','Noto Sans CJK SC',sans-serif" fill="#fff" stroke="#dcdcdc" stroke-width="0.35">凯莱英药闻</text>
</svg>
</body></html>
